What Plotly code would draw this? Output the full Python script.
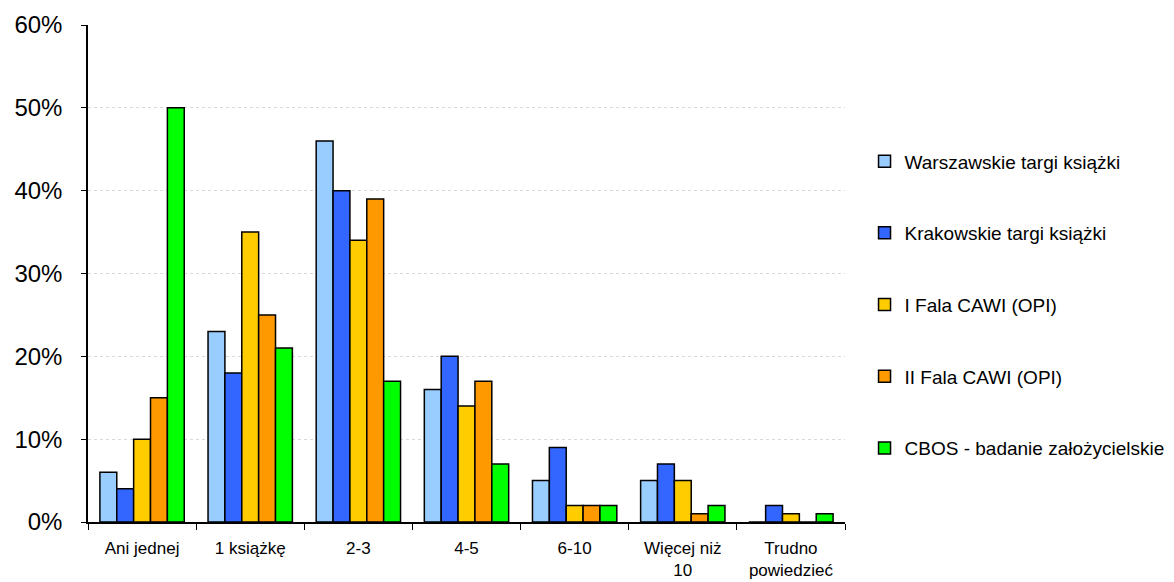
import plotly.graph_objects as go

categories = ["Ani jednej", "1 książkę", "2-3", "4-5", "6-10", "Więcej niż<br>10", "Trudno<br>powiedzieć"]

warszawskie = [0.06, 0.23, 0.46, 0.16, 0.05, 0.05, 0.00]
krakowskie = [0.04, 0.18, 0.40, 0.20, 0.09, 0.07, 0.02]
fala_1 = [0.10, 0.35, 0.34, 0.14, 0.02, 0.05, 0.01]
fala_2 = [0.15, 0.25, 0.39, 0.17, 0.02, 0.01, 0.00]
cbos = [0.50, 0.21, 0.17, 0.07, 0.02, 0.02, 0.01]

series_names = [
    "Warszawskie targi książki",
    "Krakowskie targi książki",
    "I Fala CAWI (OPI)",
    "II Fala CAWI (OPI)",
    "CBOS - badanie założycielskie",
]
series_values = [warszawskie, krakowskie, fala_1, fala_2, cbos]
colors = ["#99CCFF", "#3366FF", "#FFCC00", "#FF9900", "#00FF00"]

fig = go.Figure()
for i, (name, vals, col) in enumerate(zip(series_names, series_values, colors)):
    fig.add_trace(go.Bar(
        x=categories,
        y=vals,
        name=name,
        legendgroup=f"g{i}",
        marker=dict(color=col, line=dict(color="#000000", width=1.5)),
    ))

fig.update_layout(
    width=1174,
    height=582,
    barmode="group",
    bargap=0.22,
    bargroupgap=0,
    plot_bgcolor="white",
    paper_bgcolor="white",
    margin=dict(l=88, r=329, t=25, b=60),
    font=dict(family="Liberation Sans, Arial, sans-serif", color="#000000"),
    legend=dict(
        xref="container",
        x=0.7364,
        xanchor="left",
        yref="paper",
        y=0.437,
        yanchor="middle",
        font=dict(size=19, family="Liberation Sans, Arial, sans-serif"),
        tracegroupgap=44,
        itemwidth=30,
        bgcolor="rgba(0,0,0,0)",
    ),
    showlegend=True,
)

fig.update_yaxes(
    range=[0, 0.6],
    tickvals=[0, 0.1, 0.2, 0.3, 0.4, 0.5, 0.6],
    tickformat=".0%",
    tickfont=dict(size=24),
    ticklabelstandoff=14,
    automargin=False,
    showline=True,
    linecolor="#000000",
    linewidth=1.5,
    ticks="outside",
    ticklen=5,
    tickcolor="#000000",
    showgrid=True,
    gridcolor="#D9D9D9",
    griddash="dot",
    gridwidth=1,
    zeroline=False,
)

fig.update_xaxes(
    tickfont=dict(size=17),
    ticklabelstandoff=10,
    automargin=False,
    showline=True,
    linecolor="#000000",
    linewidth=1.5,
    ticks="outside",
    tickson="boundaries",
    ticklen=6,
    tickcolor="#000000",
    showgrid=False,
)

fig.write_html("out.html")
